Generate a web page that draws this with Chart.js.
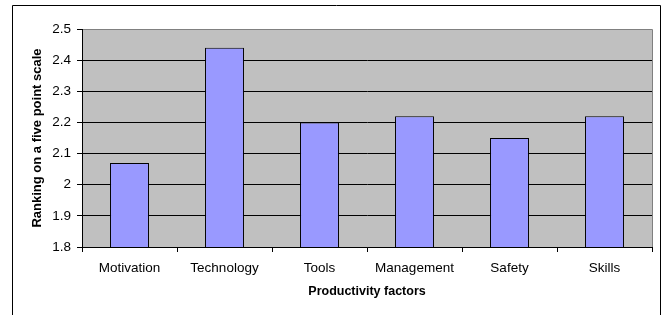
<!DOCTYPE html>
<html>
<head>
<meta charset="utf-8">
<script src="https://cdn.jsdelivr.net/npm/chart.js@4/dist/chart.umd.min.js"></script>
<style>
  body { margin: 0; background: #fff; }
</style>
</head>
<body>
<canvas id="myChart" width="662" height="315"></canvas>
<script>
// data
const factors = ['Motivation', 'Technology', 'Tools', 'Management', 'Safety', 'Skills'];
const rankings = [2.07, 2.44, 2.2, 2.22, 2.15, 2.22];
const yTicks = [1.8, 1.9, 2, 2.1, 2.2, 2.3, 2.4, 2.5];

const fontFamily = 'Arial, "Liberation Sans", sans-serif';

// grey plot area + outer frame like the old excel chart
const framePlugin = {
  id: 'frame',
  beforeDraw(chart) {
    const ctx = chart.ctx;
    const a = chart.chartArea;
    ctx.save();
    ctx.fillStyle = '#c0c0c0';
    ctx.fillRect(a.left, a.top, a.right - a.left, a.bottom - a.top);
    ctx.strokeStyle = '#808080';
    ctx.lineWidth = 1;
    ctx.beginPath();
    ctx.moveTo(a.left, a.top + 0.5);
    ctx.lineTo(a.right + 0.5, a.top + 0.5);
    ctx.lineTo(a.right + 0.5, a.bottom);
    ctx.stroke();
    // outer border (left, top, right)
    ctx.strokeStyle = '#000';
    ctx.beginPath();
    ctx.moveTo(12.5, 315);
    ctx.lineTo(12.5, 5.5);
    ctx.lineTo(660.5, 5.5);
    ctx.lineTo(660.5, 315);
    ctx.stroke();
    ctx.restore();
  }
};

const ctx = document.getElementById('myChart').getContext('2d');
const chart = new Chart(ctx, {
  type: 'bar',
  data: {
    labels: factors,
    datasets: [{
      data: rankings,
      backgroundColor: '#9999ff',
      borderColor: '#000',
      borderWidth: 1,
      borderSkipped: false,
      barPercentage: 0.41,
      categoryPercentage: 1
    }]
  },
  options: {
    responsive: false,
    animation: false,
    devicePixelRatio: 1,
    layout: { padding: { left: 12, right: 10, top: 29, bottom: 10 } },
    plugins: {
      legend: { display: false },
      tooltip: { enabled: false }
    },
    scales: {
      x: {
        offset: true,
        grid: {
          offset: true,
          drawOnChartArea: false,
          drawTicks: true,
          tickLength: 5,
          color: '#000'
        },
        border: { display: true, color: '#000' },
        ticks: {
          color: '#000',
          padding: 8,
          maxRotation: 0,
          font: { family: fontFamily, size: 13.5 }
        },
        title: {
          display: true,
          text: 'Productivity factors',
          color: '#000',
          padding: { top: 0, bottom: 6 },
          font: { family: fontFamily, size: 12.5, weight: 'bold' }
        },
        afterFit(s) { s.height = 58; }
      },
      y: {
        min: 1.8,
        max: 2.5,
        afterBuildTicks(s) { s.ticks = yTicks.map(v => ({ value: v })); },
        grid: {
          color: ctx => ctx.tick && ctx.tick.value === 2.5 ? '#808080' : '#000',
          tickColor: '#000',
          tickLength: 5,
          lineWidth: 1
        },
        border: { display: true, color: '#000' },
        ticks: {
          color: '#000',
          padding: 6,
          font: { family: fontFamily, size: 13.5 },
          callback: v => String(v)
        },
        title: {
          display: true,
          text: 'Ranking on a five point scale',
          color: '#000',
          padding: { top: 18, bottom: 0 },
          font: { family: fontFamily, size: 13, weight: 'bold' }
        },
        afterFit(s) { s.width = 70; }
      }
    }
  },
  plugins: [framePlugin]
});
</script>
</body>
</html>
